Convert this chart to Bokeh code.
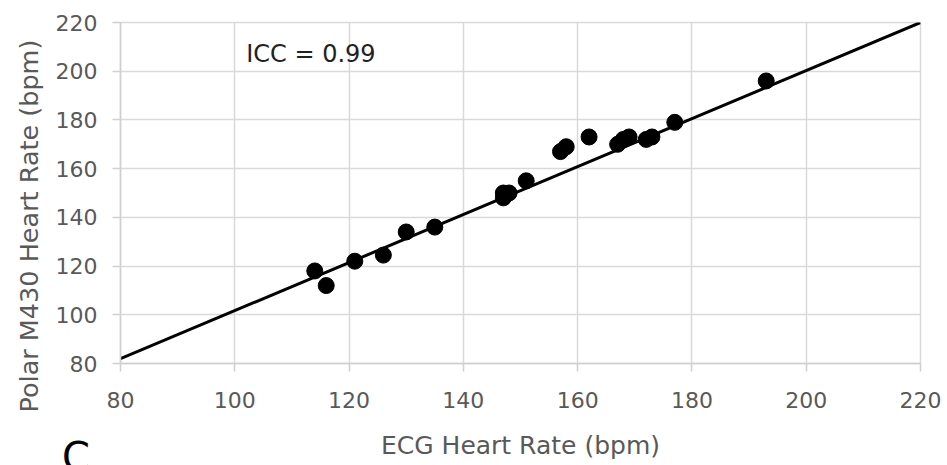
from bokeh.plotting import figure
from bokeh.models import ColumnDataSource, FixedTicker, Title, Div
from bokeh.layouts import column
from bokeh.core.properties import value
from bokeh.embed import file_html
from bokeh.resources import INLINE

# Data
ecg_hr = [114, 116, 121, 126, 130, 135, 147, 147, 148, 151, 157, 158, 162,
          167, 168, 169, 172, 173, 177, 193]
polar_hr = [118, 112, 122, 124.5, 134, 136, 148, 150, 150, 155, 167, 169, 173,
            170, 172, 173, 172, 173, 179, 196]
fit_x = [80, 220]
fit_y = [82, 220]
ticks = [80, 100, 120, 140, 160, 180, 200, 220]
icc_text = "ICC = 0.99"
x_label = "ECG Heart Rate (bpm)"
y_label = "Polar M430 Heart Rate (bpm)"
panel_letter = "C"

FONT = "DejaVu Sans"
TICK_FS = "22px"
LABEL_FS = "25px"
GREY = "#595959"

p = figure(frame_width=800, frame_height=341, x_range=(80, 220), y_range=(80, 220),
           output_backend="svg", toolbar_location=None,
           min_border_left=120, min_border_right=27, min_border_top=22, min_border_bottom=102)
p.outline_line_color = "#d9d9d9"
p.outline_line_width = 1.5

for ax in (p.xaxis[0], p.yaxis[0]):
    ax.ticker = FixedTicker(ticks=ticks)
    ax.major_label_text_font = FONT
    ax.major_label_text_font_size = TICK_FS
    ax.major_label_text_color = GREY
    ax.axis_label_text_font = FONT
    ax.axis_label_text_font_size = LABEL_FS
    ax.axis_label_text_font_style = "normal"
    ax.axis_label_text_color = GREY
    ax.axis_line_color = "#d0d0d0"
    ax.axis_line_width = 1.5
    ax.major_tick_line_color = "#d0d0d0"
    ax.major_tick_line_width = 1.5
    ax.major_tick_out = 8
    ax.major_tick_in = 0
    ax.minor_tick_line_color = None

p.xaxis.axis_label = x_label
p.xaxis.major_label_standoff = 20
p.xaxis.axis_label_standoff = 20
p.yaxis.major_label_standoff = 15

# y-axis title, anchored at its start so it can sit lower than the frame centre
p.add_layout(Title(text=y_label, align="left", offset=-49, standoff=18,
                   text_font=FONT, text_font_size="25.5px", text_font_style="normal",
                   text_color=GREY), "left")

for g in (p.xgrid[0], p.ygrid[0]):
    g.ticker = FixedTicker(ticks=ticks)
    g.grid_line_color = "#d9d9d9"
    g.grid_line_width = 1.5

p.line(fit_x, fit_y, line_color="black", line_width=3)
src = ColumnDataSource(dict(x=ecg_hr, y=polar_hr))
p.scatter("x", "y", source=src, size=16, fill_color="black", line_color="black")

p.text(x=[102], y=[207], text=[icc_text], text_font=value(FONT), text_font_size="24px",
       text_color="#222222", text_align="left", text_baseline="middle")

letter = Div(text=('<span style="font-family: \'DejaVu Sans\', sans-serif; '
                   'font-size: 40px; line-height: 1; color: black;">' + panel_letter + '</span>'),
             width=40, height=33,
             styles={"position": "absolute", "left": "57px", "top": "432px",
                     "font-family": "'DejaVu Sans', sans-serif", "line-height": "1",
                     "overflow": "hidden"})

layout = column(p, letter, spacing=0)
open("out.html", "w").write(file_html(layout, INLINE))
